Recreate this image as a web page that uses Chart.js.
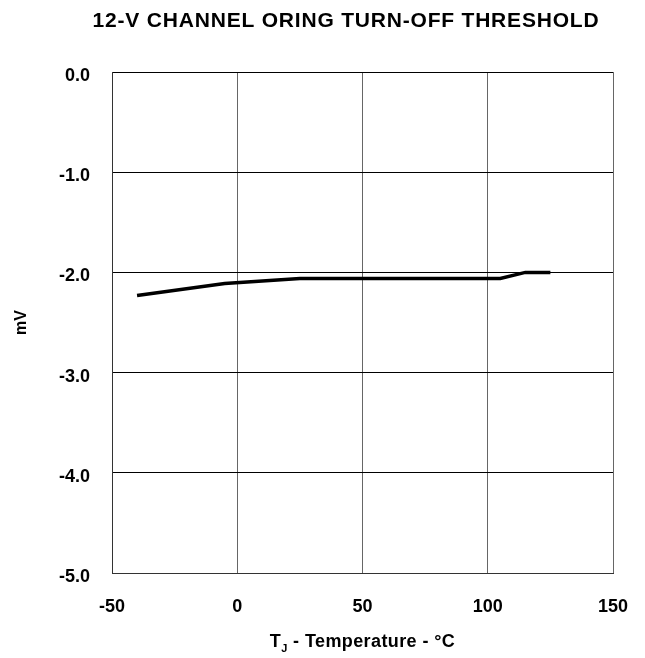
<!DOCTYPE html>
<html>
<head>
<meta charset="utf-8">
<script src="https://cdn.jsdelivr.net/npm/chart.js@4"></script>
<style>
  html, body { margin: 0; padding: 0; background: #fff; }
  #wrap { width: 645px; height: 658px; position: relative; }
</style>
</head>
<body>
<div id="wrap"><canvas id="c" width="645" height="658"></canvas></div>
<script>
const chartTitle = '12-V CHANNEL ORING TURN-OFF THRESHOLD';
const yAxisTitle = 'mV';
const xTitleMain = 'T';
const xTitleSub = 'J';
const xTitleRest = ' - Temperature - °C';

const temperatures = [-40, -5, 25, 105, 115, 125];
const thresholdMv = [-2.23, -2.11, -2.06, -2.06, -2.00, -2.00];

const xTicks = [-50, 0, 50, 100, 150];
const yTicks = [0, -1, -2, -3, -4, -5];

const points = temperatures.map((t, i) => ({ x: t, y: thresholdMv[i] }));

const textPlugin = {
  id: 'textPlugin',
  afterDraw(chart) {
    const ctx = chart.ctx;
    const ca = chart.chartArea;
    ctx.save();
    ctx.fillStyle = '#000';
    ctx.textBaseline = 'alphabetic';
    // chart title
    ctx.font = 'bold 21px "Liberation Sans", Arial, sans-serif';
    try { ctx.letterSpacing = '0.8px'; } catch (e) {}
    ctx.textAlign = 'center';
    ctx.fillText(chartTitle, 346, 27);
    try { ctx.letterSpacing = '0.4px'; } catch (e) {}
    // x axis title with subscript
    ctx.textAlign = 'left';
    const mainFont = 'bold 18px "Liberation Sans", Arial, sans-serif';
    const subFont = 'bold 11px "Liberation Sans", Arial, sans-serif';
    ctx.font = mainFont;
    const wT = ctx.measureText(xTitleMain).width;
    const wR = ctx.measureText(xTitleRest).width;
    ctx.font = subFont;
    const wJ = ctx.measureText(xTitleSub).width;
    const total = wT + wJ + wR;
    let x = (ca.left + ca.right) / 2 - total / 2;
    ctx.font = mainFont;
    ctx.fillText(xTitleMain, x, 647);
    x += wT;
    ctx.font = subFont;
    ctx.fillText(xTitleSub, x, 652);
    x += wJ;
    ctx.font = mainFont;
    ctx.fillText(xTitleRest, x, 647);
    ctx.restore();
  }
};

new Chart(document.getElementById('c'), {
  type: 'line',
  data: {
    datasets: [{
      data: points,
      borderColor: '#000',
      borderWidth: 3.5,
      pointRadius: 0,
      tension: 0,
      fill: false
    }]
  },
  options: {
    responsive: false,
    animation: false,
    events: [],
    layout: { padding: { top: 72, right: 32, bottom: 0, left: 0 } },
    plugins: {
      legend: { display: false },
      title: { display: false },
      tooltip: { enabled: false }
    },
    scales: {
      x: {
        type: 'linear',
        min: -50,
        max: 150,
        afterBuildTicks(scale) { scale.ticks = xTicks.map(v => ({ value: v })); },
        afterFit(scale) { scale.height = 85; scale.paddingRight = 0; scale.paddingLeft = 0; },
        ticks: {
          padding: 23,
          color: '#000',
          font: { family: '"Liberation Sans", Arial, sans-serif', size: 18, weight: 'bold' },
          callback: v => String(v),
          maxRotation: 0
        },
        grid: { color: '#666', lineWidth: 1, drawTicks: false },
        border: { color: '#333', width: 1 }
      },
      y: {
        type: 'linear',
        min: -5,
        max: 0,
        afterBuildTicks(scale) { scale.ticks = yTicks.map(v => ({ value: v })); },
        afterFit(scale) { scale.width = 112; scale.paddingTop = 0; scale.paddingBottom = 0; },
        ticks: {
          padding: 22,
          labelOffset: 4,
          color: '#000',
          font: { family: '"Liberation Sans", Arial, sans-serif', size: 18, weight: 'bold' },
          callback: v => Number(v).toFixed(1)
        },
        grid: { color: '#000', lineWidth: 1, drawTicks: false },
        border: { color: '#333', width: 1 },
        title: {
          display: true,
          text: yAxisTitle,
          color: '#000',
          font: { family: '"Liberation Sans", Arial, sans-serif', size: 16, weight: 'bold' },
          padding: { top: 12, bottom: 0 }
        }
      }
    }
  },
  plugins: [textPlugin]
});
</script>
</body>
</html>
